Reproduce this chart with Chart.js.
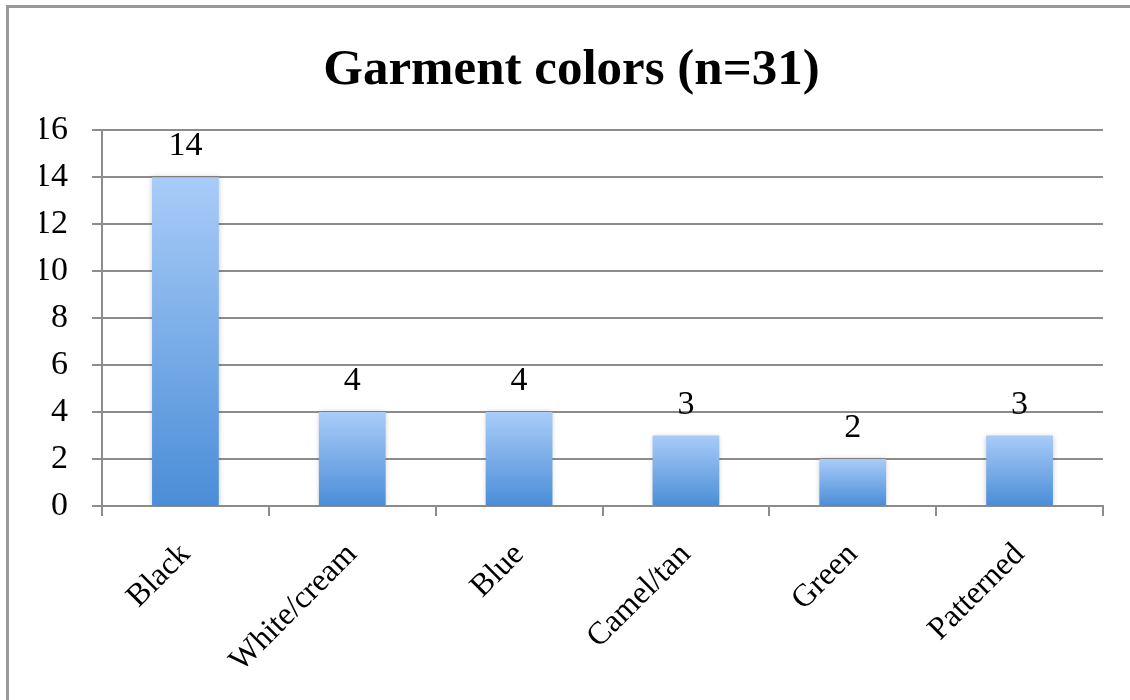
<!DOCTYPE html>
<html>
<head>
<meta charset="utf-8">
<title>Garment colors</title>
<script src="https://cdn.jsdelivr.net/npm/chart.js@4.4.1/dist/chart.umd.min.js"></script>
<style>
  html, body { margin: 0; padding: 0; background: #fff; }
  #wrap { position: relative; width: 1130px; height: 700px; }
  #frame {
    position: absolute; left: 6px; top: 5px; right: 0; bottom: 0;
    border-top: 3px solid #999; border-left: 3px solid #999;
    pointer-events: none;
  }
</style>
</head>
<body>
<div id="wrap">
  <canvas id="garmentChart" width="1130" height="700"></canvas>
  <div id="frame"></div>
</div>
<script>
// Dữ liệu biểu đồ
const categories = ['Black', 'White/cream', 'Blue', 'Camel/tan', 'Green', 'Patterned'];
const counts = [14, 4, 4, 3, 2, 3];
const yTicks = [0, 2, 4, 6, 8, 10, 12, 14, 16];

const serif = '"Liberation Serif", "Times New Roman", serif';
const axisGray = '#8c8c8c';

// Gradient dọc cho từng cột: sáng ở trên, đậm ở dưới
function barGradient(ctx) {
    const chart = ctx.chart;
    const y = chart.scales.y;
    if (!chart.chartArea || !y || ctx.raw == null) return '#7fb0ea';
    const top = y.getPixelForValue(ctx.raw);
    const bottom = y.getPixelForValue(0);
    const g = chart.ctx.createLinearGradient(0, top, 0, bottom);
    g.addColorStop(0, '#a9ccf8');
    g.addColorStop(1, '#4a8dd7');
    return g;
}

// Bóng mờ nhẹ quanh cột
const barShadow = {
    id: 'barShadow',
    beforeDatasetsDraw(chart) {
        const c = chart.ctx;
        c.save();
        c.shadowColor = 'rgba(0,0,0,0.22)';
        c.shadowBlur = 5;
    },
    afterDatasetsDraw(chart) {
        chart.ctx.restore();
    }
};

// Ghi giá trị trên đầu mỗi cột
const valueLabels = {
    id: 'valueLabels',
    afterDatasetsDraw(chart) {
        const c = chart.ctx;
        const meta = chart.getDatasetMeta(0);
        c.save();
        c.font = '34px ' + serif;
        c.fillStyle = '#000';
        c.textAlign = 'center';
        c.textBaseline = 'alphabetic';
        meta.data.forEach((bar, i) => {
            c.fillText(String(counts[i]), bar.x, bar.y - 22);
        });
        c.restore();
    }
};

new Chart(document.getElementById('garmentChart'), {
    type: 'bar',
    data: {
        labels: categories,
        datasets: [{
            data: counts,
            backgroundColor: barGradient,
            borderWidth: 0,
            barPercentage: 0.4,
            categoryPercentage: 1.0
        }]
    },
    options: {
        responsive: false,
        animation: false,
        // padding trái để tiêu đề nằm giữa khung
        layout: { padding: { left: 40, right: 27, top: 0, bottom: 0 } },
        plugins: {
            legend: { display: false },
            tooltip: { enabled: false },
            title: {
                display: true,
                text: 'Garment colors (n=31)',
                color: '#000',
                font: { family: serif, size: 51, weight: 'bold', lineHeight: 1.2 },
                padding: { top: 40, bottom: 29 }
            }
        },
        scales: {
            x: {
                offset: true,
                grid: {
                    offset: true,
                    drawOnChartArea: false,
                    drawTicks: true,
                    tickLength: 10,
                    color: axisGray,
                    lineWidth: 2
                },
                border: { display: true, color: axisGray, width: 2 },
                ticks: {
                    color: '#000',
                    font: { family: serif, size: 32 },
                    maxRotation: 45,
                    minRotation: 45,
                    padding: 20
                },
                afterFit(scale) { scale.height = 194; }
            },
            y: {
                min: 0,
                max: 16,
                afterBuildTicks(scale) { scale.ticks = yTicks.map(v => ({ value: v })); },
                grid: {
                    color: axisGray,
                    lineWidth: 2,
                    drawTicks: true,
                    tickLength: 10
                },
                border: { display: true, color: axisGray, width: 2 },
                ticks: {
                    color: '#000',
                    font: { family: serif, size: 34 },
                    padding: 24
                },
                afterFit(scale) { scale.width = 62; }
            }
        }
    },
    plugins: [barShadow, valueLabels]
});
</script>
</body>
</html>
